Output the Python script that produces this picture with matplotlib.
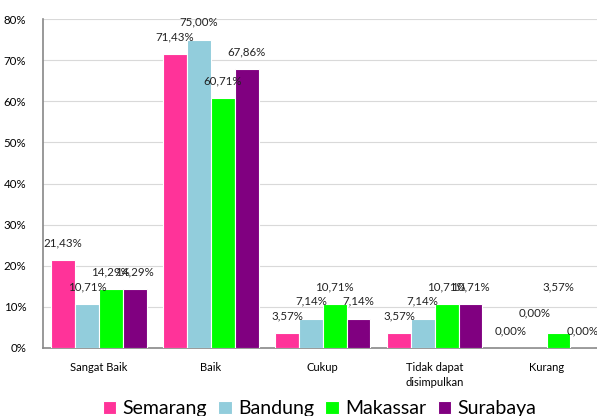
import matplotlib.pyplot as plt
import numpy as np
from matplotlib.ticker import FuncFormatter

plt.rcParams['font.family'] = ['Lato', 'DejaVu Sans']

categories = ['Sangat Baik', 'Baik', 'Cukup', 'Tidak dapat\ndisimpulkan', 'Kurang']
series = ['Semarang', 'Bandung', 'Makassar', 'Surabaya']
colors = ['#FF3399', '#92CDDC', '#00FF00', '#800080']

semarang = [21.43, 71.43, 3.57, 3.57, 0.00]
bandung = [10.71, 75.00, 7.14, 7.14, 0.00]
makassar = [14.29, 60.71, 10.71, 10.71, 3.57]
surabaya = [14.29, 67.86, 7.14, 10.71, 0.00]
values = [semarang, bandung, makassar, surabaya]

# extra label lift (points) where the original had labels pushed up
extra_lift = {(1, 4): 13, (2, 4): 21}

fig = plt.figure(figsize=(5.97, 4.16), dpi=100)
ax = fig.add_axes([43 / 597, 68 / 416, 554 / 597, 329 / 416])

x = np.arange(len(categories))
w = 0.213
for i, (name, vals, c) in enumerate(zip(series, values, colors)):
    pos = x + (i - 1.5) * w
    ax.bar(pos, vals, width=w, color=c, edgecolor='white', linewidth=0.8,
           label=name, zorder=3)
    for j, (p, v) in enumerate(zip(pos, vals)):
        lift = 8.5 + extra_lift.get((i, j), 0)
        ax.annotate(f'{v:.2f}%'.replace('.', ','), (p, v), xytext=(0, lift),
                    textcoords='offset points', ha='center', va='bottom',
                    fontsize=8.3, color='#222222', zorder=4)

ax.set_xlim(-0.5, 4.45)
ax.set_ylim(0, 80)
ax.set_yticks(range(0, 81, 10))
ax.yaxis.set_major_formatter(FuncFormatter(lambda v, _: f'{v:.0f}%'))
ax.set_xticks(x)
ax.set_xticklabels(categories, fontsize=8, linespacing=1.5)
ax.tick_params(axis='y', labelsize=8.3, length=0, pad=12)
ax.tick_params(axis='x', length=0, pad=10)
ax.grid(axis='y', color='#D9D9D9', linewidth=0.8, zorder=0)
for s in ['top', 'right']:
    ax.spines[s].set_visible(False)
for s in ['left', 'bottom']:
    ax.spines[s].set_color('#888888')
    ax.spines[s].set_linewidth(1.2)

fig.legend(loc='lower center', bbox_to_anchor=(0.535, -0.045), ncol=4, frameon=False,
           fontsize=14, handlelength=0.7, handleheight=0.7, handletextpad=0.3,
           columnspacing=0.6)

fig.savefig('out.png', dpi=100)
